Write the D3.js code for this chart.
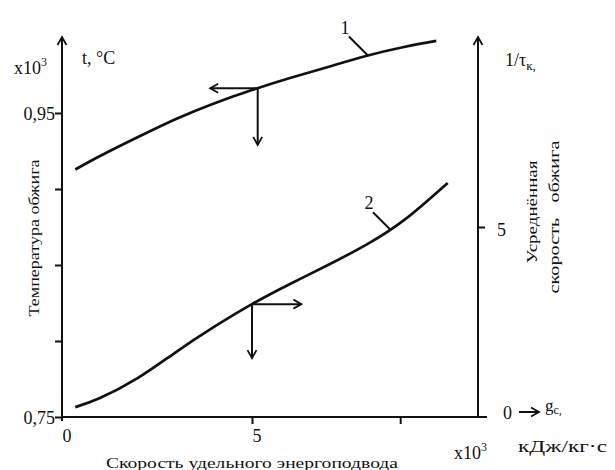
<!DOCTYPE html>
<html>
<head>
  <meta charset="utf-8">
  <title>Температура и скорость обжига</title>
  <script src="https://d3js.org/d3.v7.min.js"></script>
  <style>
    body { margin: 0; background: #fff; }
    .curve { fill: none; stroke: #111; stroke-width: 2.7px; }
    .axis-line, .pointer { stroke: #111; stroke-width: 2px; fill: none; }
    .tick line { stroke: #111; stroke-width: 2px; }
  </style>
</head>
<body>
<script>
  // x: удельный энергоподвод, x10^3 кДж/кг·с
  const xValues = [0.35, 1, 2, 3, 4, 5, 6, 7, 8, 9, 9.85];
  // кривая 1: температура обжига, x10^3 °C (левая ось)
  const tempValues = [0.9128, 0.9217, 0.9342, 0.9461, 0.9563, 0.9651, 0.9730, 0.9803, 0.9875, 0.9934, 0.9974];
  // кривая 2: усреднённая скорость обжига 1/τк (правая ось)
  const x2Values = [0.35, 1, 2, 3, 4, 5, 6, 7, 8, 9, 10.15];
  const rateValues = [0.26, 0.50, 1.03, 1.71, 2.37, 2.97, 3.50, 4.00, 4.53, 5.18, 6.16];

  const leftTicks = [0.75, 0.80, 0.85, 0.90, 0.95];
  const leftTickLabels = {0.75: "0,75", 0.95: "0,95"};
  const rightTicks = [5];
  const bottomTicks = [5, 8.9];
  const bottomTickLabels = [{v: 0, t: "0"}, {v: 5, t: "5"}];

  // указатели осей у кривых: точка на кривой, конец стрелки по x и по y
  const pointer1 = {x: 5.15, xEnd: 3.9, yEnd: 0.929};
  const pointer2 = {x: 5.0, xEnd: 6.3, yEnd: 1.55};

  const serif = '"Liberation Serif", "DejaVu Serif", serif';
  const width = 615, height = 470;
  const x = d3.scaleLinear().domain([0, 10]).range([62, 442]);
  const yL = d3.scaleLinear().domain([0.75, 0.95]).range([417, 113]);
  const yR = d3.scaleLinear().domain([0, 5]).range([417, 227]);

  const svg = d3.select("body").append("svg")
      .attr("width", width)
      .attr("height", height);

  svg.append("defs").append("marker")
      .attr("id", "head")
      .attr("viewBox", "0 0 12 12")
      .attr("refX", 10).attr("refY", 6)
      .attr("markerWidth", 12).attr("markerHeight", 12)
      .attr("markerUnits", "userSpaceOnUse")
      .attr("orient", "auto")
    .append("path")
      .attr("d", "M2,1.5 L10,6 L2,10.5")
      .attr("fill", "none")
      .attr("stroke", "#111")
      .attr("stroke-width", 1.8);

  // оси
  const x0 = x(0), xR = 478, yB = yL(0.75), yTop = 37;
  svg.append("line").attr("class", "axis-line")
      .attr("x1", x0).attr("y1", yB + 4).attr("x2", x0).attr("y2", yTop)
      .attr("marker-end", "url(#head)");
  svg.append("line").attr("class", "axis-line")
      .attr("x1", xR).attr("y1", yB).attr("x2", xR).attr("y2", yTop)
      .attr("marker-end", "url(#head)");
  svg.append("line").attr("class", "axis-line")
      .attr("x1", x0).attr("y1", yB).attr("x2", 487).attr("y2", yB);

  svg.append("g")
      .attr("transform", `translate(${x0},0)`)
      .call(d3.axisLeft(yL).tickValues(leftTicks).tickSize(7).tickPadding(0)
        .tickFormat(d => leftTickLabels[d] || ""))
      .call(g => g.select(".domain").remove())
      .call(g => g.selectAll("text").attr("dy", "0.35em").style("font-size", "18px"));

  svg.append("g")
      .attr("transform", `translate(${xR},0)`)
      .call(d3.axisRight(yR).tickValues(rightTicks).tickSize(7).tickPadding(12)
        .tickFormat(d => String(d)))
      .call(g => g.select(".domain").remove())
      .call(g => g.selectAll("text").attr("dy", "0.45em").style("font-size", "18px"));

  svg.append("g")
      .attr("transform", `translate(0,${yB})`)
      .call(d3.axisBottom(x).tickValues(bottomTicks).tickSize(7).tickFormat(""))
      .call(g => g.select(".domain").remove());

  svg.selectAll(".xlab").data(bottomTickLabels).enter().append("text")
      .attr("x", d => x(d.v) + 5)
      .attr("y", yB + 25)
      .attr("text-anchor", "middle")
      .style("font-size", "18px")
      .text(d => d.t);

  // кривые
  const line1 = d3.line().x((d, i) => x(xValues[i])).y(d => yL(d)).curve(d3.curveNatural);
  const line2 = d3.line().x((d, i) => x(x2Values[i])).y(d => yR(d)).curve(d3.curveNatural);
  svg.append("path").attr("class", "curve").attr("d", line1(tempValues));
  svg.append("path").attr("class", "curve").attr("d", line2(rateValues));

  // значение на кривой в точке x (линейно между узлами)
  function at(xs, ys, v) {
    const i = Math.max(1, d3.bisectLeft(xs, v));
    const t = (v - xs[i - 1]) / (xs[i] - xs[i - 1]);
    return ys[i - 1] + t * (ys[i] - ys[i - 1]);
  }

  function pointer(p, xs, ys, ys2px) {
    const px = x(p.x), py = ys2px(at(xs, ys, p.x));
    svg.append("line").attr("class", "pointer")
        .attr("x1", px).attr("y1", py).attr("x2", x(p.xEnd)).attr("y2", py)
        .attr("marker-end", "url(#head)");
    svg.append("line").attr("class", "pointer")
        .attr("x1", px).attr("y1", py).attr("x2", px).attr("y2", ys2px(p.yEnd))
        .attr("marker-end", "url(#head)");
  }
  pointer(pointer1, xValues, tempValues, yL);
  pointer(pointer2, x2Values, rateValues, yR);

  // выноски номеров кривых
  function callout(xs, ys, ys2px, v, dx, dy, label) {
    const px = x(v), py = ys2px(at(xs, ys, v));
    svg.append("line").attr("class", "pointer").attr("stroke-width", 1.6)
        .attr("x1", px).attr("y1", py).attr("x2", px + dx).attr("y2", py + dy);
    svg.append("text")
        .attr("x", px + dx - 4).attr("y", py + dy - 3)
        .attr("text-anchor", "middle")
        .style("font-size", "18px")
        .text(label);
  }
  callout(xValues, tempValues, yL, 8.05, -19, -19, "1");
  callout(x2Values, rateValues, yR, 8.63, -17, -17, "2");

  // подписи осей
  const lx = svg.append("text").attr("x", 14).attr("y", 74).style("font-size", "18px");
  lx.append("tspan").text("x10");
  lx.append("tspan").attr("dy", -8).style("font-size", "12px").text("3");

  svg.append("text").attr("x", 82).attr("y", 64)
      .style("font-size", "18px").text("t, °C");

  const rt = svg.append("text").attr("x", 505).attr("y", 66).style("font-size", "18px");
  rt.append("tspan").text("1/τ");
  rt.append("tspan").attr("dy", 4).style("font-size", "13px").text("к,");

  svg.append("text")
      .attr("transform", "translate(39,238) rotate(-90)")
      .attr("text-anchor", "middle")
      .attr("textLength", 157).attr("lengthAdjust", "spacingAndGlyphs")
      .style("font-size", "15px")
      .text("Температура обжига");

  svg.append("text")
      .attr("transform", "translate(537,212) rotate(-90)")
      .attr("text-anchor", "middle")
      .attr("textLength", 103).attr("lengthAdjust", "spacingAndGlyphs")
      .style("font-size", "15px")
      .text("Усреднённая");
  svg.append("text")
      .attr("transform", "translate(559,217) rotate(-90)")
      .attr("text-anchor", "middle")
      .attr("textLength", 153).attr("lengthAdjust", "spacingAndGlyphs")
      .attr("xml:space", "preserve")
      .style("font-size", "15px")
      .text("скорость   обжига");

  svg.append("text").attr("x", 503).attr("y", 419)
      .style("font-size", "18px").text("0");
  svg.append("line").attr("class", "pointer")
      .attr("x1", 519).attr("y1", 412).attr("x2", 539).attr("y2", 412)
      .attr("marker-end", "url(#head)");
  const gc = svg.append("text").attr("x", 545).attr("y", 411).style("font-size", "17px");
  gc.append("tspan").text("g");
  gc.append("tspan").attr("dy", 3).style("font-size", "12px").text("c,");

  const bx = svg.append("text").attr("x", 454).attr("y", 459).style("font-size", "18px");
  bx.append("tspan").text("x10");
  bx.append("tspan").attr("dy", -8).style("font-size", "12px").text("3");

  svg.append("text").attr("x", 518).attr("y", 452)
      .attr("textLength", 89).attr("lengthAdjust", "spacingAndGlyphs")
      .style("font-size", "17px").text("кДж/кг·с");

  svg.append("text").attr("x", 106).attr("y", 468)
      .attr("textLength", 292).attr("lengthAdjust", "spacingAndGlyphs")
      .style("font-size", "15px")
      .text("Скорость удельного энергоподвода");

  // все подписи одним шрифтом
  svg.selectAll("text").attr("font-family", null)
      .style("font-family", serif).style("fill", "#111");
  svg.selectAll("g").attr("font-family", null);
</script>
</body>
</html>
